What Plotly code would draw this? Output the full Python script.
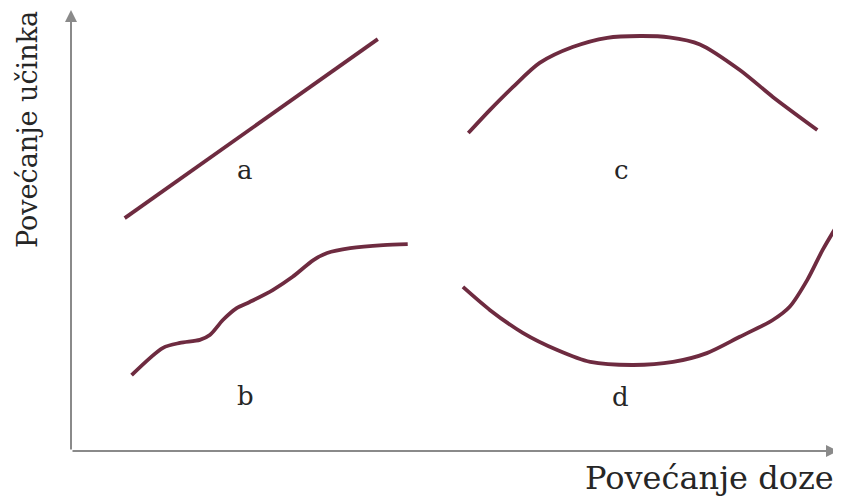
import plotly.graph_objects as go

# krivulje doza-ucinak (proizvoljne jedinice, 0-10 na obje osi)
a_x = [0.70, 4.00]
a_y = [5.28, 9.34]

b_x = [0.79, 1.20, 1.42, 1.68, 1.81, 1.98, 2.16, 2.33, 2.63, 2.89, 3.16, 3.34, 3.64, 4.07, 4.39]
b_y = [1.72, 2.34, 2.45, 2.52, 2.63, 2.97, 3.24, 3.38, 3.65, 3.95, 4.33, 4.49, 4.60, 4.67, 4.69]

c_x = [5.18, 5.46, 5.76, 6.11, 6.54, 6.99, 7.42, 7.80, 8.20, 8.72, 9.15, 9.73]
c_y = [7.21, 7.73, 8.25, 8.80, 9.16, 9.37, 9.41, 9.38, 9.22, 8.64, 8.03, 7.28]

d_x = [5.11, 5.46, 5.89, 6.34, 6.77, 7.33, 7.85, 8.29, 8.72, 9.15, 9.37, 9.60, 9.80, 9.99]
d_y = [3.72, 3.20, 2.68, 2.29, 2.02, 1.95, 2.02, 2.22, 2.59, 2.97, 3.27, 3.88, 4.56, 5.12]

oznake = ['a', 'b', 'c', 'd']
oznake_x = [2.27, 2.27, 7.18, 7.16]
oznake_y = [6.37, 1.25, 6.37, 1.22]

boja = '#6e2b40'
font = 'DejaVu Serif'

fig = go.Figure()
for xs, ys in [(a_x, a_y), (b_x, b_y), (c_x, c_y), (d_x, d_y)]:
    fig.add_trace(go.Scatter(x=xs, y=ys, mode='lines',
                             line=dict(color=boja, width=3.8, shape='spline', smoothing=0.8),
                             showlegend=False, hoverinfo='skip', cliponaxis=False))

for t, x, y in zip(oznake, oznake_x, oznake_y):
    fig.add_annotation(x=x, y=y, text=t, showarrow=False,
                       font=dict(family=font, size=26, color='#262626'))

# osi sa strelicama
fig.add_annotation(x=0, y=10, ax=0, ay=0, xref='x', yref='y', axref='x', ayref='y',
                   text='', showarrow=True, arrowhead=2, arrowsize=1.2, arrowwidth=2,
                   arrowcolor='#8a8a8a')
fig.add_annotation(x=10, y=0, ax=0, ay=0, xref='x', yref='y', axref='x', ayref='y',
                   text='', showarrow=True, arrowhead=2, arrowsize=1.2, arrowwidth=2,
                   arrowcolor='#8a8a8a')

fig.add_annotation(x=-0.056, y=0.728, xref='paper', yref='paper', text='Povećanje učinka',
                   textangle=-90, showarrow=False, xanchor='center', yanchor='middle',
                   font=dict(family=font, size=27, color='#262626'))
fig.add_annotation(x=0.997, y=-0.062, xref='paper', yref='paper', text='Povećanje doze',
                   xanchor='right', yanchor='middle', showarrow=False,
                   font=dict(family=font, size=32, color='#262626'))

fig.update_xaxes(range=[0, 10], visible=False)
fig.update_yaxes(range=[0, 10], visible=False)
# stranica ima 8 px margine, pa je ploha pomaknuta da osi padnu na isto mjesto
fig.update_layout(width=841, height=497, margin=dict(l=63, r=11, t=2, b=54),
                  plot_bgcolor='white', paper_bgcolor='white')

fig.write_html("out.html")
